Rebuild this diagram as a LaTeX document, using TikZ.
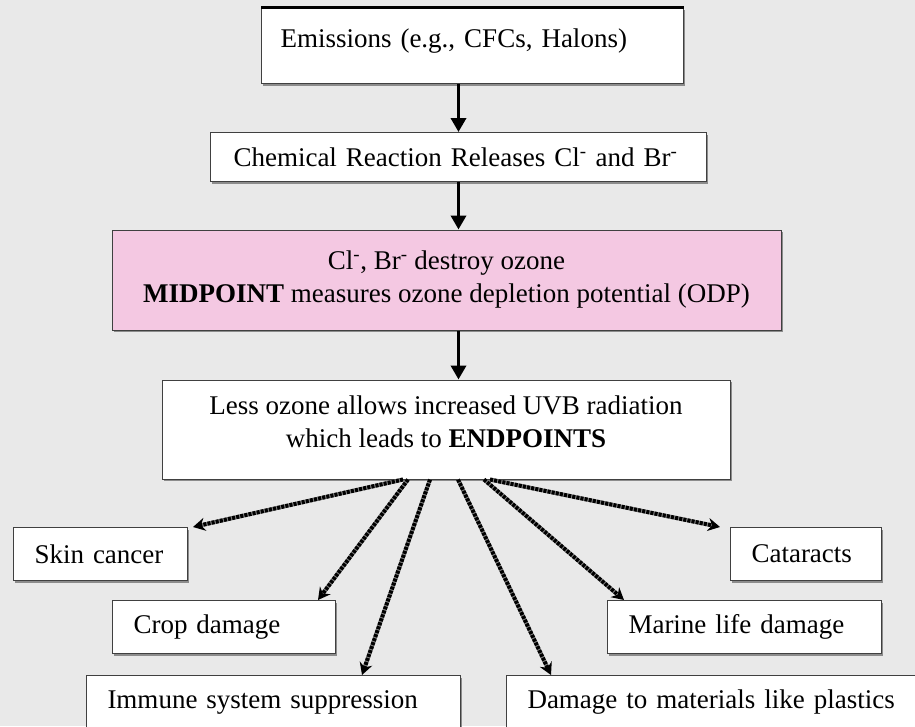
\documentclass[tikz,border=0pt]{standalone}
\usepackage{fontspec}
\setmainfont{Liberation Serif}
\usetikzlibrary{arrows.meta,shadows}

\definecolor{bggray}{RGB}{233,233,233}
\definecolor{odppink}{RGB}{244,200,226}

\tikzset{
  box/.style={draw=black!75, line width=1pt, fill=white, inner sep=0pt,
    font=\fontsize{27}{33}\selectfont,
    drop shadow={shadow xshift=1.8pt, shadow yshift=-2.2pt, opacity=1, fill=black!45}},
  leaf/.style={box, anchor=north west, align=left, inner xsep=21pt, minimum height=53pt},
  flow/.style={-{Triangle[length=14pt,width=15pt]}, line width=3.5pt},
  effect/.style={-{Stealth[length=12pt,width=13pt]}, line width=4pt, black,
    dash pattern=on 3pt off 1.2pt,
    preaction={draw, -, solid, black!50, line width=4pt, shorten >=8pt}},
}

\begin{document}
\begin{tikzpicture}[x=1pt, y=-1pt]
    % 背景(薄い灰色)
    \useasboundingbox (0,0) rectangle (915,726);
    \clip (0,0) rectangle (915,726);
    \fill[bggray] (0,0) rectangle (915,726);

    % 排出
    \node[box, anchor=north west, align=left, text width=384pt, inner xsep=19pt,
      minimum height=76pt, text depth=15pt] (emis) at (261,7) {\mbox{Emissions (e.g., CFCs, Halons)}};
    \draw[line width=3pt] (emis.north west) -- (emis.north east);

    % 化学反応
    \node[box, anchor=north west, align=left, text width=450pt, inner xsep=23pt,
      minimum height=49pt] (chem) at (210,132) {\mbox{Chemical Reaction Releases Cl\textsuperscript{-} and Br\textsuperscript{-}}};

    % MIDPOINT(ピンク色)
    \node[box, fill=odppink, align=center, minimum width=669pt, minimum height=100pt] (odp) at (446.5,280)
      {Cl\textsuperscript{-}, Br\textsuperscript{-} destroy ozone\\
       \textbf{MIDPOINT} measures ozone depletion potential (ODP)};

    % ENDPOINTS
    \node[box, align=center, minimum width=568pt, minimum height=99pt, text depth=15pt] (endp) at (446,429.5)
      {Less ozone allows increased UVB radiation\\
       which leads to \textbf{ENDPOINTS}};

    % 影響
    \node[leaf, text width=132pt] (skin) at (13,527) {\mbox{Skin cancer}};
    \node[leaf, text width=109pt] (cat) at (730,527) {\mbox{Cataracts}};
    \node[leaf, text width=181pt] (crop) at (112,600) {\mbox{Crop damage}};
    \node[leaf, text width=232pt] (marine) at (607,600) {\mbox{Marine life damage}};
    \node[leaf, text width=332pt] (immune) at (86,675) {\mbox{Immune system suppression}};
    \node[leaf, text width=370pt] (damage) at (506,675) {\mbox{Damage to materials like plastics}};

    % 矢印(縦の流れ)
    \draw[flow] (emis.south -| chem.north) -- (chem.north);
    \draw[flow] (chem.south) -- (chem.south |- odp.north);
    \draw[flow] (odp.south -| chem.south) -- (endp.north -| chem.south);

    % 矢印(ENDPOINTS から各影響へ)
    \draw[effect] ([xshift=-43pt]endp.south) -- ([xshift=5pt]skin.north east);    % 皮膚がん
    \draw[effect] ([xshift=-38pt]endp.south) -- ([xshift=206pt]crop.north west);  % 作物
    \draw[effect] ([xshift=-16pt]endp.south) -- ([xshift=276pt]immune.north west);% 免疫
    \draw[effect] ([xshift=12pt]endp.south) -- ([xshift=45pt]damage.north west);  % 材料
    \draw[effect] ([xshift=38pt]endp.south) -- ([xshift=17pt]marine.north west);  % 海洋生物
    \draw[effect] ([xshift=44pt]endp.south) -- ([xshift=-10pt]cat.north west);    % 白内障
  \end{tikzpicture}
\end{document}
